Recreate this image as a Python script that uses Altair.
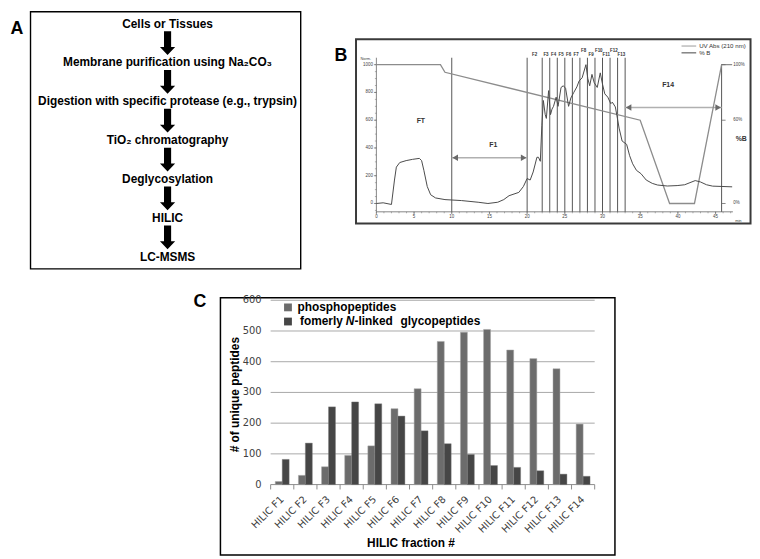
import altair as alt
import pandas as pd

W, H = 752, 551
SX, SY = W / 760.0, H / 559.0


def px(v):
    return round(v * SX, 2)


def py(v):
    return round(v * SY, 2)


FONT = "Liberation Sans"
TICKFONT = "DejaVu Sans"

# ---------------- data ----------------
flow_steps = [
    "Cells or Tissues",
    "Membrane purification using Na\u2082CO\u2083",
    "Digestion with specific protease (e.g., trypsin)",
    "TiO\u2082 chromatography",
    "Deglycosylation",
    "HILIC",
    "LC-MSMS",
]

uv_time = [0, 0.9, 2.0, 2.4, 2.65, 3.1, 3.95, 4.8, 5.7, 6.0, 6.3, 6.75, 7.2, 7.85,
           9.1, 11.3, 13.5, 14.8, 16.1, 16.9, 17.6, 18.9, 19.5, 20.0, 20.4, 20.8,
           21.3, 21.5, 21.75, 21.95, 22.15, 22.4, 22.55, 22.85, 23.1, 23.3, 23.5,
           23.85, 24.1, 24.5, 24.8, 25.1, 25.5, 25.8, 26.2, 26.6, 26.9, 27.3, 27.8,
           28.05, 28.3, 28.6, 28.9, 29.3, 29.7, 30.0, 30.3, 30.7, 31.1, 31.3, 31.7,
           31.9, 32.2, 32.6, 33.2, 33.6, 34.0, 34.5, 35.1, 35.8, 36.6, 37.3, 38.6,
           39.9, 40.9, 41.6, 42.3, 43.0, 43.8, 44.6, 47.2]
uv_abs = [0, 5, -7, 169, 262, 295, 309, 318, 325, 309, 239, 122, 63, 40,
          28, 21, 9, 0, 9, 28, 56, 80, 122, 180, 169, 227,
          333, 333, 304, 560, 742, 640, 613, 813, 640, 680, 700,
          766, 700, 836, 848, 830, 700, 760, 801, 840, 883, 906, 1000,
          900, 848, 930, 870, 836, 941, 860, 790, 766, 719, 730, 696,
          637, 543, 450, 426, 344, 286, 239, 215, 169, 145, 133, 126,
          129, 135, 150, 165, 155, 135, 125, 120]

grad_time = [0, 8.5, 9.1, 35.0, 38.9, 42.2, 45.8, 47.2]
grad_pct = [100, 100, 94.5, 60, 0, 0, 100, 100]

cut_times = [10, 20, 22, 23, 24, 25, 26, 27, 28, 29, 30, 31, 32, 33]
frac_labels = ["F2", "F3", "F4", "F5", "F6", "F7", "F8", "F9", "F10", "F11", "F12", "F13"]
frac_label_time = [21.0, 22.5, 23.5, 24.5, 25.5, 26.5, 27.5, 28.5, 29.5, 30.5, 31.5, 32.5]
frac_label_level = [1071, 1071, 1071, 1071, 1071, 1071, 1099, 1071, 1099, 1071, 1099, 1071]

region_labels = ["FT", "F1", "F14"]
region_time = [5.9, 15.5, 38.7]
region_level = [594, 418, 854]

span_start = [10, 33]
span_end = [20, 45.8]
span_level = [329, 692]

uv_ticks = [0, 200, 400, 600, 800, 1000]
uv_minor = list(range(-50, 1050, 50))
time_ticks = [0, 5, 10, 15, 20, 25, 30, 35, 40, 45]
time_minor = list(range(0, 48))
pctb_ticks = [0, 60, 100]
pctb_text = ["0%", "60%", "100%"]

fractions = ["HILIC F%d" % i for i in range(1, 15)]
phospho = [10, 30, 58, 95, 126, 247, 312, 466, 496, 505, 438, 410, 377, 197]
glyco = [82, 135, 253, 269, 263, 223, 175, 133, 98, 62, 56, 45, 34, 27]
count_ticks = [0, 100, 200, 300, 400, 500, 600]

one = pd.DataFrame({"k": [0]})

# ---------------- panel A ----------------
dfA = pd.DataFrame({"step": flow_steps, "i": list(range(len(flow_steps)))})
yA = alt.Y("i:Q", scale=alt.Scale(domain=[0, 6], range=[py(13), py(252)], nice=False, zero=False), axis=None)
textA = alt.Chart(dfA).mark_text(font=FONT, fontWeight="bold", fontSize=12, color="black",
                                 baseline="middle", align="center").encode(
    x=alt.value(px(163)), y=yA, text="step:N")
ARROW = "M-0.3,-1L0.3,-1L0.3,0.33L0.64,0.33L0,1L-0.64,0.33L-0.3,0.33Z"
dfArr = pd.DataFrame({"i": [k + 0.5 for k in range(len(flow_steps) - 1)]})
arrowsA = alt.Chart(dfArr).mark_point(shape=ARROW, size=576, filled=True, color="black",
                                      opacity=1, strokeWidth=0).encode(x=alt.value(px(163)), y=yA)
panelA = alt.layer(textA, arrowsA)

# ---------------- panel B ----------------
xsB = alt.Scale(domain=[0, 47.3], range=[px(376.3), px(740.5)], nice=False, zero=False)
ysB = alt.Scale(domain=[-60, 1050], range=[py(206), py(48)], nice=False, zero=False)


def XB(f):
    return alt.X(f, type="quantitative", scale=xsB, axis=None)


def YB(f):
    return alt.Y(f, type="quantitative", scale=ysB, axis=None)


AXC = "#666"
dfUV = pd.DataFrame({"t": uv_time, "uv": uv_abs})
trace = alt.Chart(dfUV).mark_line(color="#4a4a4a", strokeWidth=1).encode(x=XB("t"), y=YB("uv"))

dfG = pd.DataFrame({"t": grad_time, "pct": grad_pct})
grad = alt.Chart(dfG).transform_calculate(level="datum.pct * 10").mark_line(
    color="#8c8c8c", strokeWidth=1.3).encode(x=XB("t"), y=YB("level"))

dfCut = pd.DataFrame({"t": cut_times})
cuts = alt.Chart(dfCut).mark_rule(color="#555", strokeWidth=1).encode(
    x=XB("t"), y=alt.value(py(48)), y2=alt.value(py(206)))
rightLine = alt.Chart(pd.DataFrame({"t": [45.8], "lv": [1000]})).mark_rule(color="#555", strokeWidth=1).encode(
    x=XB("t"), y=YB("lv"), y2=alt.value(py(206)))

dfFL = pd.DataFrame({"name": frac_labels, "t": frac_label_time, "lv": frac_label_level})
fracText = alt.Chart(dfFL).mark_text(font=FONT, fontSize=4.5, fontWeight="bold", color="#333",
                                     baseline="middle").encode(x=XB("t"), y=YB("lv"), text="name:N")

dfRL = pd.DataFrame({"name": region_labels, "t": region_time, "lv": region_level})
regText = alt.Chart(dfRL).mark_text(font=FONT, fontSize=7, fontWeight="bold", color="#333",
                                    baseline="middle").encode(x=XB("t"), y=YB("lv"), text="name:N")

dfSpan = pd.DataFrame({"a": span_start, "b": span_end, "lv": span_level})
spanLine = alt.Chart(dfSpan).mark_rule(color="#b0b0b0", strokeWidth=1.6).encode(
    x=XB("a"), x2="b:Q", y=YB("lv"))
headL = alt.Chart(dfSpan).mark_point(shape="triangle-left", size=42, filled=True, color="#6a6a6a",
                                     opacity=1, xOffset=3.5).encode(x=XB("a"), y=YB("lv"))
headR = alt.Chart(dfSpan).mark_point(shape="triangle-right", size=42, filled=True, color="#6a6a6a",
                                     opacity=1, xOffset=-3.5).encode(x=XB("b"), y=YB("lv"))

dfPB = pd.DataFrame({"lv": [v * 10 for v in pctb_ticks], "txt": pctb_text, "t": [47.35] * 3})
pbTicks = alt.Chart(dfPB).mark_rule(color=AXC, strokeWidth=0.8).encode(
    x=alt.value(px(729)), x2=alt.value(px(733)), y=YB("lv"))
pbText = alt.Chart(dfPB).mark_text(font=FONT, fontSize=4.5, color="#444", align="left",
                                   baseline="middle").encode(x=XB("t"), y=YB("lv"), text="txt:N")
pbTitle = alt.Chart(pd.DataFrame({"t": [48.4], "lv": [467], "s": ["%B"]})).mark_text(
    font=FONT, fontSize=7, fontWeight="bold", color="#333", baseline="middle").encode(
    x=XB("t"), y=YB("lv"), text="s:N")

# axes of B drawn from the tick lists
dfTT = pd.DataFrame({"t": time_ticks})
dfTM = pd.DataFrame({"t": time_minor})
dfUT = pd.DataFrame({"v": uv_ticks})
dfUM = pd.DataFrame({"v": uv_minor})
bAxes = [
    alt.Chart(one).mark_rule(color=AXC, strokeWidth=0.8).encode(
        x=alt.value(px(376.3)), x2=alt.value(px(740.5)), y=alt.value(py(206))),
    alt.Chart(one).mark_rule(color=AXC, strokeWidth=0.8).encode(
        x=alt.value(px(376.3)), y=alt.value(py(48)), y2=alt.value(py(206))),
    alt.Chart(dfTM).mark_rule(color=AXC, strokeWidth=0.5).encode(
        x=XB("t"), y=alt.value(py(206)), y2=alt.value(py(207.5))),
    alt.Chart(dfTT).mark_rule(color=AXC, strokeWidth=0.7).encode(
        x=XB("t"), y=alt.value(py(206)), y2=alt.value(py(208.5))),
    alt.Chart(dfTT).mark_text(font=FONT, fontSize=4.5, color="#444", baseline="middle").encode(
        x=XB("t"), y=alt.value(py(211)), text=alt.Text("t:Q", format="d")),
    alt.Chart(dfUM).mark_rule(color=AXC, strokeWidth=0.5).encode(
        x=alt.value(px(374.8)), x2=alt.value(px(376.3)), y=YB("v")),
    alt.Chart(dfUT).mark_rule(color=AXC, strokeWidth=0.7).encode(
        x=alt.value(px(373.8)), x2=alt.value(px(376.3)), y=YB("v")),
    alt.Chart(dfUT).mark_text(font=FONT, fontSize=4.5, color="#444", align="right",
                              baseline="middle").encode(
        x=alt.value(px(372.8)), y=YB("v"), text=alt.Text("v:Q", format="d")),
]

bDeco = alt.layer(
    alt.Chart(one).mark_text(text="Norm.", font=FONT, fontSize=4, color="#444", align="right",
                             baseline="middle").encode(x=alt.value(px(371)), y=alt.value(py(49))),
    alt.Chart(one).mark_text(text="min", font=FONT, fontSize=4, color="#444", align="center",
                             baseline="middle").encode(x=alt.value(px(746)), y=alt.value(py(215))),
    alt.Chart(one).mark_rule(color="#9a9a9a", strokeWidth=1).encode(
        x=alt.value(px(688)), x2=alt.value(px(703)), y=alt.value(py(36))),
    alt.Chart(one).mark_rule(color="#444", strokeWidth=1).encode(
        x=alt.value(px(688)), x2=alt.value(px(703)), y=alt.value(py(43))),
    alt.Chart(one).mark_text(text="UV Abs (210 nm)", font=FONT, fontSize=6.2, color="#333",
                             align="left", baseline="middle").encode(x=alt.value(px(706)), y=alt.value(py(36))),
    alt.Chart(one).mark_text(text="% B", font=FONT, fontSize=6.2, color="#333",
                             align="left", baseline="middle").encode(x=alt.value(px(706)), y=alt.value(py(43))),
)

panelB = alt.layer(*bAxes, cuts, rightLine, spanLine, headL, headR, grad, trace, fracText, regText,
                   pbTicks, pbText, pbTitle)

# ---------------- panel C ----------------
dfC = pd.DataFrame({
    "fraction": fractions * 2,
    "series": ["phospho"] * len(fractions) + ["glyco"] * len(fractions),
    "count": phospho + glyco,
})
xsC = alt.Scale(domain=fractions, range=[px(268.3), px(599.3)], paddingInner=0.4, paddingOuter=0.2)
ysC = alt.Scale(domain=[0, 600], range=[py(485.7), py(296.7)], nice=False, zero=True)
STEP = (px(599.3) - px(268.3)) / len(fractions)


def XC():
    return alt.X("fraction:N", scale=xsC, axis=None, sort=fractions)


def YC(f):
    return alt.Y(f, type="quantitative", scale=ysC, axis=None)


dfCT = pd.DataFrame({"v": count_ticks})
dfFr = pd.DataFrame({"fraction": fractions})
gridC = alt.Chart(pd.DataFrame({"v": count_ticks[1:]})).mark_rule(color="#a8a8a8", strokeWidth=1).encode(
    y=YC("v"), x=alt.value(px(268.3)), x2=alt.value(px(599.3)))
yLabC = alt.Chart(dfCT).mark_text(font=TICKFONT, fontSize=10, color="#404040", align="right",
                                  baseline="middle").encode(
    x=alt.value(px(259)), y=YC("v"), text=alt.Text("v:Q", format="d"))
xDomC = alt.Chart(one).mark_rule(color="#8c8c8c", strokeWidth=1).encode(
    x=alt.value(px(268.3)), x2=alt.value(px(599.3)), y=alt.value(py(485.7)))
xTickC = alt.Chart(dfFr).mark_rule(color="#8c8c8c", strokeWidth=1, xOffset=-STEP / 2).encode(
    x=XC(), y=alt.value(py(485.7)), y2=alt.value(py(490.7)))
xTickEnd = alt.Chart(pd.DataFrame({"fraction": fractions[-1:]})).mark_rule(
    color="#8c8c8c", strokeWidth=1, xOffset=STEP / 2).encode(
    x=XC(), y=alt.value(py(485.7)), y2=alt.value(py(490.7)))
xLabC = alt.Chart(dfFr).mark_text(font=TICKFONT, fontSize=10, color="#404040", align="right",
                                  baseline="middle", angle=315).encode(
    x=XC(), y=alt.value(py(499.5)), text="fraction:N")

xo = alt.XOffset("series:N", scale=alt.Scale(domain=["phospho", "glyco"]))
barsP = alt.Chart(dfC).transform_filter("datum.series == 'phospho'").mark_bar(
    color="#6c6c6c", stroke="#a6a6a6", strokeWidth=0.5).encode(x=XC(), xOffset=xo, y=YC("count"))
barsG = alt.Chart(dfC).transform_filter("datum.series == 'glyco'").mark_bar(
    color="#464646", stroke="#777", strokeWidth=0.4).encode(x=XC(), xOffset=xo, y=YC("count"))

panelC = alt.layer(gridC, xDomC, xTickC, xTickEnd, yLabC, xLabC, barsP, barsG)

# legend and titles of C
cDeco = alt.layer(
    alt.Chart(one).mark_rect(color="#6c6c6c").encode(
        x=alt.value(px(282)), x2=alt.value(px(290)), y=alt.value(py(300)), y2=alt.value(py(308))),
    alt.Chart(one).mark_rect(color="#464646").encode(
        x=alt.value(px(282)), x2=alt.value(px(290)), y=alt.value(py(314.5)), y2=alt.value(py(322.5))),
    alt.Chart(one).mark_text(text="phosphopeptides", font=FONT, fontSize=12, fontWeight="bold",
                             color="black", align="left", baseline="middle").encode(
        x=alt.value(px(295.7)), y=alt.value(py(304))),
    alt.Chart(one).mark_text(text="fomerly", font=FONT, fontSize=12, fontWeight="bold",
                             color="black", align="left", baseline="middle").encode(
        x=alt.value(px(298.3)), y=alt.value(py(318.5))),
    alt.Chart(one).mark_text(text="N", font=FONT, fontSize=12, fontWeight="bold", fontStyle="italic",
                             color="black", align="left", baseline="middle").encode(
        x=alt.value(px(345)), y=alt.value(py(318.5))),
    alt.Chart(one).mark_text(text="-linked", font=FONT, fontSize=12, fontWeight="bold",
                             color="black", align="left", baseline="middle").encode(
        x=alt.value(px(354)), y=alt.value(py(318.5))),
    alt.Chart(one).mark_text(text="glycopeptides", font=FONT, fontSize=12, fontWeight="bold",
                             color="black", align="left", baseline="middle").encode(
        x=alt.value(px(401)), y=alt.value(py(318.5))),
    alt.Chart(one).mark_text(text="# of unique peptides", font=FONT, fontSize=12, fontWeight="bold",
                             color="black", align="center", baseline="middle", angle=270).encode(
        x=alt.value(px(232)), y=alt.value(py(393.5))),
    alt.Chart(one).mark_text(text="HILIC fraction #", font=FONT, fontSize=12, fontWeight="bold",
                             color="black", align="center", baseline="middle").encode(
        x=alt.value(px(411.6)), y=alt.value(py(545.7))),
)

# ---------------- frames and panel letters ----------------
frames = alt.layer(
    alt.Chart(one).mark_rect(fill="white", fillOpacity=0, stroke="black", strokeWidth=1.4).encode(
        x=alt.value(px(23)), x2=alt.value(px(299)), y=alt.value(py(0.8)), y2=alt.value(py(264.5))),
    alt.Chart(one).mark_rect(fill="white", fillOpacity=0, stroke="#3a3a3a", strokeWidth=2).encode(
        x=alt.value(px(355.5)), x2=alt.value(px(758.5)), y=alt.value(py(29)), y2=alt.value(py(218))),
    alt.Chart(one).mark_rect(fill="white", fillOpacity=0, stroke="black", strokeWidth=1.5).encode(
        x=alt.value(px(217)), x2=alt.value(px(620)), y=alt.value(py(294)), y2=alt.value(py(558))),
    alt.Chart(one).mark_text(text="A", font=FONT, fontSize=18, fontWeight="bold", color="black",
                             align="center", baseline="middle").encode(x=alt.value(px(9)), y=alt.value(py(19))),
    alt.Chart(one).mark_text(text="B", font=FONT, fontSize=18, fontWeight="bold", color="black",
                             align="center", baseline="middle").encode(x=alt.value(px(340)), y=alt.value(py(46))),
    alt.Chart(one).mark_text(text="C", font=FONT, fontSize=18, fontWeight="bold", color="black",
                             align="center", baseline="middle").encode(x=alt.value(px(196)), y=alt.value(py(299))),
)

chart = alt.layer(frames, panelA, panelB, bDeco, panelC, cDeco).resolve_scale(
    x="independent", y="independent"
).properties(
    width=W, height=H, padding=0, autosize=alt.AutoSizeParams(type="none"), background="white"
).configure_view(stroke=None)

chart.save("out.html", embed_options={"renderer": "svg", "actions": False})
